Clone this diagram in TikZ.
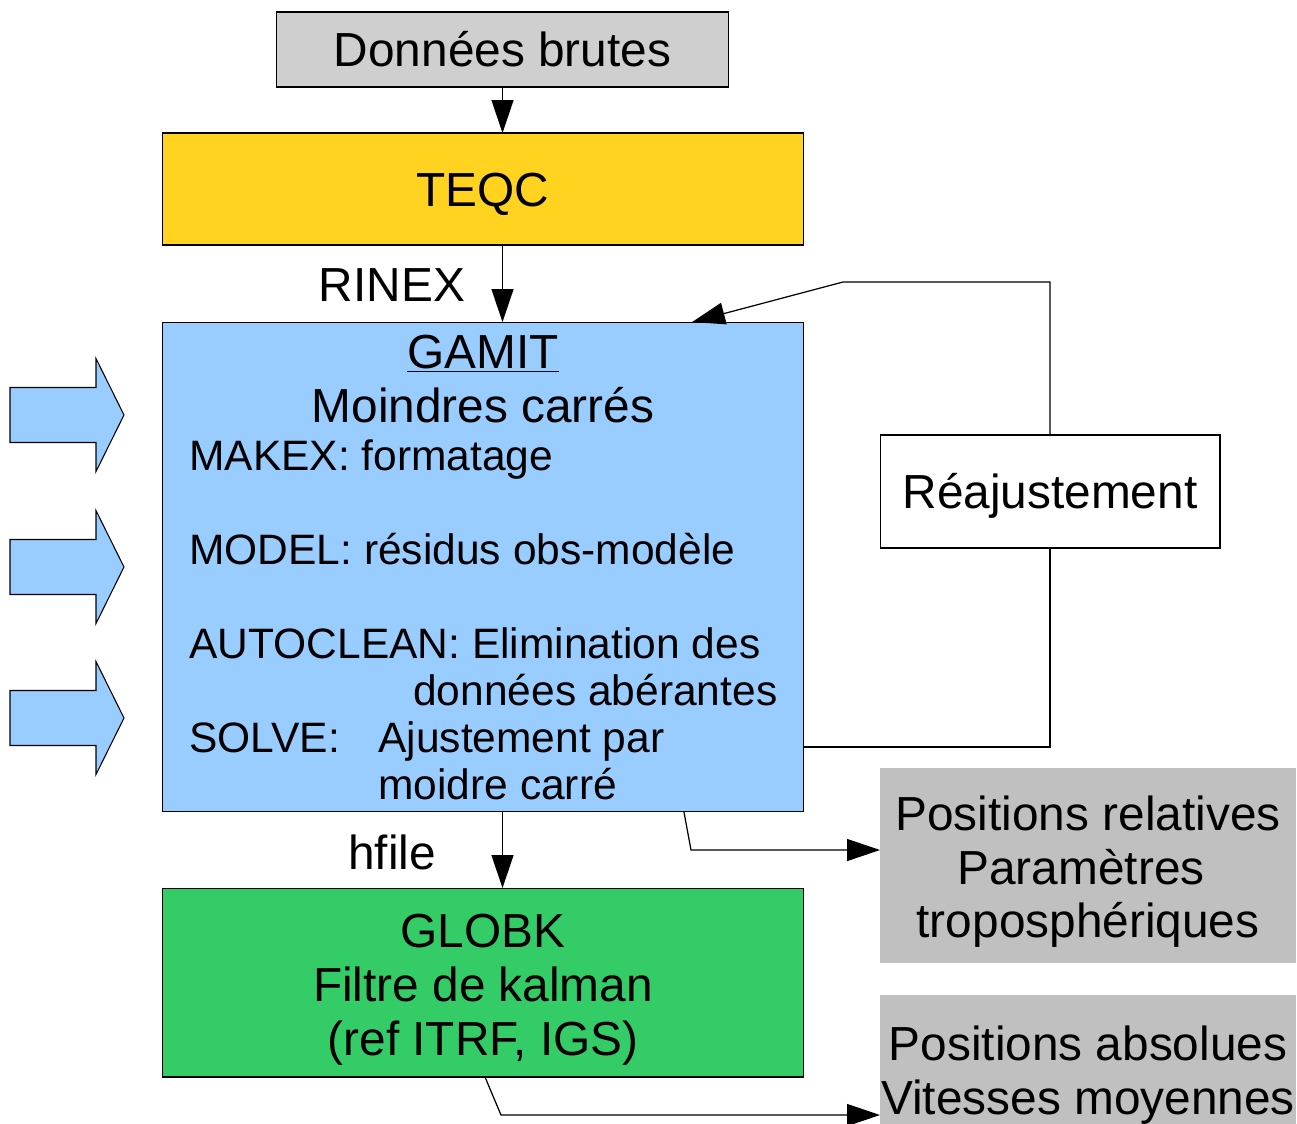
\documentclass[tikz,border=0pt]{standalone}
\usepackage{fontspec}
\setmainfont{Liberation Sans}
\usetikzlibrary{arrows.meta}
\definecolor{brutesgray}{HTML}{CFCFCF}
\definecolor{teqcyellow}{HTML}{FFD320}
\definecolor{gamitblue}{HTML}{99CCFF}
\definecolor{globkgreen}{HTML}{33CC66}
\definecolor{outgray}{HTML}{C0C0C0}
\tikzset{
  box/.style={draw=black, line width=0.6pt, inner sep=0pt, outer sep=0pt},
  outbox/.style={fill=outgray, inner sep=0pt, outer sep=0pt},
  big/.style={font=\fontsize{27.2}{31.2}\selectfont, inner sep=0pt},
  small/.style={font=\fontsize{24.2}{27.8}\selectfont, inner sep=0pt},
  capmid/.style={text height=0.68cm, text depth=0pt},
  link/.style={line width=0.7pt},
  arr/.style={link, -{Triangle[length=0.66cm,width=0.44cm]}},
  blockarrow/.style={draw=black, line width=0.6pt, fill=gamitblue}
}
\begin{document}
\begin{tikzpicture}[x=0.02cm,y=-0.02cm]
\useasboundingbox (0,0) rectangle (1297,1123);
\clip (0,0) rectangle (1297,1123);
% boxes
\node[box, big, capmid, fill=brutesgray, minimum width=9.06cm, minimum height=1.5cm] (brutes) at (502.5,49.5) {Données brutes};
\node[box, big, capmid, fill=teqcyellow, minimum width=12.84cm, minimum height=2.24cm] (teqc) at (483,189) {TEQC};
\node[box, fill=gamitblue, minimum width=12.84cm, minimum height=9.8cm] (gamit) at (483,567) {};
\node[box, fill=globkgreen, minimum width=12.84cm, minimum height=3.78cm] (globk) at (483,982.5) {};
\node[box, big, capmid, fill=white, minimum width=6.8cm, minimum height=2.26cm] (reaj) at (1050,491.5) {Réajustement};
\node[outbox, minimum width=8.32cm, minimum height=3.9cm] (out1) at (1088,865.5) {};
\node[outbox, minimum width=8.32cm, minimum height=2.8cm] (out2) at (1088,1065) {};
% inputs on the left
\foreach \y in {415,567,718}
  \draw[blockarrow] (10,\y-27.5) -- (96,\y-27.5) -- (96,\y-56.5) -- (124,\y)
    -- (96,\y+56.5) -- (96,\y+27.5) -- (10,\y+27.5) -- cycle;
% GAMIT text
\node[big, anchor=base] (gtitle) at (483,368) {\underline{GAMIT}};
\node[big, anchor=base] (gsub) at (483,422) {Moindres carrés};
\node[small, anchor=base west] (makex) at (189,470) {MAKEX: formatage};
\node[small, anchor=base west] (model) at (189,564) {MODEL: résidus obs-modèle};
\node[small, anchor=base west] (autoclean) at (189,658) {AUTOCLEAN: Elimination des};
\node[small, anchor=base west] (autoclean2) at (413,705) {données abérantes};
\node[small, anchor=base west] (solve) at (189,752) {SOLVE:};
\node[small, anchor=base west] (solve2) at (378,752) {Ajustement par};
\node[small, anchor=base west] (solve3) at (378,799) {moidre carré};
% GLOBK text
\node[big, anchor=base] (gk1) at (483,947) {GLOBK};
\node[big, anchor=base] (gk2) at (483,1001) {Filtre de kalman};
\node[big, anchor=base] (gk3) at (483,1055) {(ref ITRF, IGS)};
% outputs text
\node[big, anchor=base] (rel1) at (1088,830) {Positions relatives};
\node[big, anchor=base] (rel2) at (1081,884) {Paramètres};
\node[big, anchor=base] (rel3) at (1088,937) {troposphériques};
\node[big, anchor=base] (abs1) at (1088,1060) {Positions absolues};
\node[big, anchor=base] (abs2) at (1088,1114) {Vitesses moyennes};
% main chain
\draw[arr] (brutes.south) -- (brutes.south |- teqc.north);
\draw[arr] (teqc.south -| brutes.south) -- (gamit.north -| brutes.south);
\draw[arr] (gamit.south -| brutes.south) -- (globk.north -| brutes.south);
\node[big, capmid] (rinex) at (392,284) {RINEX};
\node[big, capmid] (hfile) at (392,852) {hfile};
% feedback loop
\coordinate (fbbot) at (1048,747);
\coordinate (fbtop) at (843,282);
\coordinate (fbtip) at (692,322);
\draw[link] (gamit.east |- fbbot) -| (reaj.south);
\draw[arr] (reaj.north) |- (fbtop) -- (gamit.north -| fbtip);
% outputs
\coordinate (k1) at (691,850);
\coordinate (k2) at (501,1115);
\draw[arr] ([xshift=4.02cm]gamit.south) -- (k1) -- (out1.west |- k1);
\draw[arr] ([xshift=0.04cm]globk.south) -- (k2) -- (out2.west |- k2);
\end{tikzpicture}
\end{document}
